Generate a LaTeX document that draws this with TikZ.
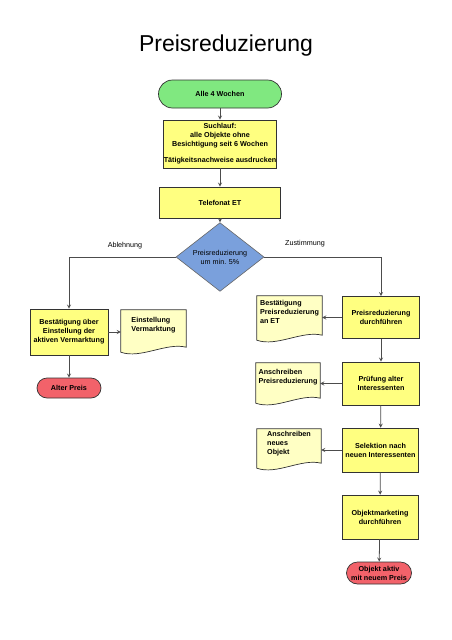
\documentclass[tikz,border=0pt]{standalone}
\usepackage{fontspec}
\setmainfont{Liberation Sans}
\usetikzlibrary{shapes.geometric,calc,backgrounds}
\definecolor{startgreen}{RGB}{128,232,128}
\definecolor{boxyellow}{RGB}{255,255,128}
\definecolor{docyellow}{RGB}{255,255,196}
\definecolor{decblue}{RGB}{122,160,220}
\definecolor{endred}{RGB}{242,98,106}
\tikzset{
  txt/.style={font=\bfseries\fontsize{7.2}{9}\selectfont},
  procbox/.style={txt, draw=black!80, line width=0.7pt, fill=boxyellow, align=center, inner sep=0pt},
  terminal/.style={txt, draw=black!80, line width=0.7pt, rounded corners=10pt, align=center, inner sep=0pt},
  docbox/.style={txt, align=left, inner sep=0pt},
  decision/.style={diamond, draw=black!60, line width=0.6pt, fill=decblue, align=center, inner sep=0pt,
    font=\fontsize{7.2}{9}\selectfont},
  flow/.style={draw=black!70, line width=0.8pt, -stealth},
  lbl/.style={font=\fontsize{7.2}{9}\selectfont}
}
% document symbol with wavy bottom, drawn behind node #1
\newcommand{\docwave}[1]{%
  \filldraw[fill=docyellow, draw=black!80, line width=0.7pt]
    (#1.north west) -- (#1.south west)
    .. controls +(20,7) and +(-20,-5) .. ($(#1.south east)+(0,-5)$)
    -- (#1.north east) -- cycle;}
\begin{document}
\begin{tikzpicture}[x=1pt,y=-1pt]
\useasboundingbox (0,0) rectangle (452,640);
% Title
\node (title) at (226,46) {\fontsize{23}{27}\selectfont Preisreduzierung};
% Main chain
\node[terminal, fill=startgreen, minimum width=123pt, minimum height=28pt, rounded corners=14pt] (start) at (220,94) {Alle 4 Wochen};
\node[procbox, minimum width=112pt, minimum height=48pt] (such) at (220,144)
  {Suchlauf:\\alle Objekte ohne\\Besichtigung seit 6 Wochen\\[7pt]Tätigkeitsnachweise ausdrucken};
\node[procbox, minimum width=121pt, minimum height=31pt] (tel) at (220,202.5) {Telefonat ET};
\node[decision, minimum width=88pt, minimum height=58pt] (dec) at (220,257) {Preisreduzierung\\um min. 5\%};
% Ablehnung branch
\node[procbox, minimum width=78pt, minimum height=46pt] (bestaet) at (69,332)
  {Bestätigung über\\Einstellung der\\aktiven Vermarktung};
\node[docbox, minimum width=65pt, minimum height=42pt] (einst) at (153.5,331) {Einstellung\\Vermarktung\\[5pt]};
\node[terminal, fill=endred, minimum width=64pt, minimum height=20pt] (alt) at (69,388) {Alter Preis};
% Zustimmung branch
\node[procbox, minimum width=77pt, minimum height=42pt] (durch) at (381,317.5) {Preisreduzierung\\durchführen};
\node[procbox, minimum width=77pt, minimum height=43pt] (pruef) at (381,383.5) {Prüfung alter\\Interessenten};
\node[procbox, minimum width=76pt, minimum height=44pt] (selek) at (380.5,450) {Selektion nach\\neuen Interessenten};
\node[procbox, minimum width=76pt, minimum height=44pt] (objm) at (380,517) {Objektmarketing\\durchführen};
\node[terminal, fill=endred, minimum width=65pt, minimum height=22pt, rounded corners=11pt] (aktiv) at (379,573)
  {Objekt aktiv\\mit neuem Preis};
\node[docbox, minimum width=65pt, minimum height=44pt] (bestpr) at (289.5,318) {Bestätigung\\Preisreduzierung\\an ET\\[3pt]};
\node[docbox, minimum width=64pt, minimum height=40pt] (anpr) at (288,383) {Anschreiben\\Preisreduzierung\\[4pt]};
\node[docbox, minimum width=64pt, minimum height=39pt] (anobj) at (289,448.5) {Anschreiben\\neues\\Objekt\\[3pt]};
% Document shapes
\begin{scope}[on background layer]
\docwave{einst}
\docwave{bestpr}
\docwave{anpr}
\docwave{anobj}
\end{scope}
% Connectors
\draw[flow] (start) -- (such);
\draw[flow] (such) -- (tel);
\draw[flow] (tel) -- (dec);
\draw[flow] (dec.west) -| (bestaet.north);
\draw[flow] (dec.east) -| (durch.north);
\node[lbl] (ablehn) at (125,246) {Ablehnung};
\node[lbl] (zustimm) at (305,244) {Zustimmung};
\draw[flow] (bestaet.east) -- (bestaet.east -| einst.west);
\draw[flow] (bestaet) -- (alt);
\draw[flow] (durch.west) -- (durch.west -| bestpr.east);
\draw[flow] (durch) -- (pruef);
\draw[flow] (pruef.west) -- (pruef.west -| anpr.east);
\draw[flow] (pruef) -- (selek);
\draw[flow] (selek.west) -- (selek.west -| anobj.east);
\draw[flow] (selek) -- (objm);
\draw[flow] (objm) -- (aktiv);
\end{tikzpicture}
\end{document}
